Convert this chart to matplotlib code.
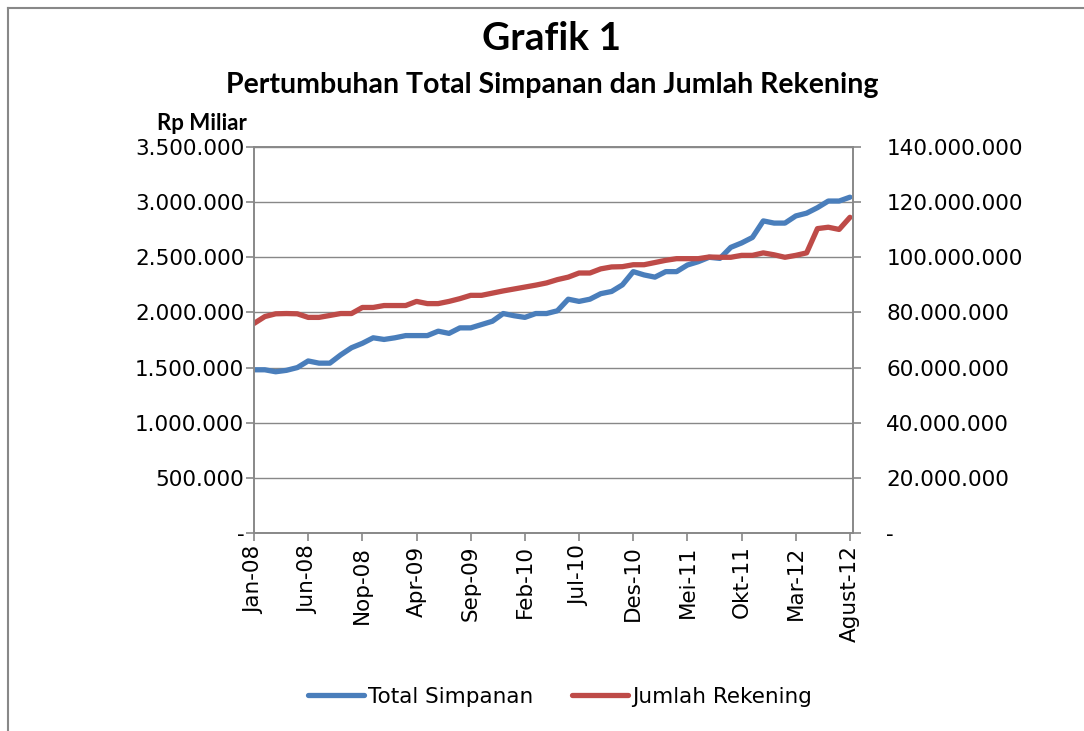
import numpy as np
import matplotlib.pyplot as plt
from matplotlib.ticker import FuncFormatter

# monthly data Jan-08 .. Agust-12
total_simpanan = [1480, 1480, 1462, 1475, 1500, 1560, 1540, 1540, 1615, 1680,
                  1720, 1770, 1755, 1770, 1790, 1790, 1790, 1830, 1810, 1860,
                  1860, 1890, 1920, 1990, 1970, 1955, 1990, 1990, 2015, 2120,
                  2100, 2120, 2170, 2190, 2250, 2370, 2340, 2320, 2370, 2370,
                  2430, 2460, 2500, 2490, 2590, 2630, 2680, 2830, 2810, 2810,
                  2875, 2900, 2950, 3010, 3010, 3045]  # ribu miliar -> x1000
jumlah_rekening = [76.0, 78.5, 79.5, 79.6, 79.5, 78.2, 78.2, 78.9, 79.6, 79.6,
                   81.8, 81.8, 82.5, 82.5, 82.5, 84.0, 83.2, 83.2, 84.0, 85.0,
                   86.2, 86.2, 87.0, 87.8, 88.5, 89.2, 89.9, 90.7, 91.9, 92.8,
                   94.3, 94.3, 95.8, 96.5, 96.6, 97.3, 97.3, 98.1, 98.9, 99.5,
                   99.5, 99.5, 100.1, 100.0, 100.0, 100.7, 100.7, 101.6, 100.9, 100.0,
                   100.7, 101.6, 110.4, 110.9, 110.1, 114.5]  # juta rekening
tick_labels = ['Jan-08', 'Jun-08', 'Nop-08', 'Apr-09', 'Sep-09', 'Feb-10',
               'Jul-10', 'Des-10', 'Mei-11', 'Okt-11', 'Mar-12', 'Agust-12']

simpanan = np.array(total_simpanan) * 1000
rekening = np.array(jumlah_rekening) * 1e6
x = np.arange(len(simpanan))

blue = '#4A7EBB'
red = '#BE4B48'
grey = '#888888'
tick_font = 'DejaVu Sans'
fs = 15.5


def dot_fmt(v, pos):
    if v == 0:
        return '-'
    return '{:,.0f}'.format(v).replace(',', '.')


fig = plt.figure(figsize=(10.84, 7.31), dpi=100)
ax = fig.add_axes([254 / 1084, 1 - 533 / 731, (853 - 254) / 1084, (533 - 147) / 731])
ax2 = ax.twinx()

l1, = ax.plot(x, simpanan, color=blue, lw=3.8, solid_capstyle='round', label='Total Simpanan')
l2, = ax2.plot(x, rekening, color=red, lw=3.8, solid_capstyle='round', label='Jumlah Rekening')

ax.set_xlim(0, 55.28)
ax.set_ylim(0, 3500000)
ax2.set_ylim(0, 140000000)
ax.set_yticks(np.arange(0, 3500001, 500000))
ax2.set_yticks(np.arange(0, 140000001, 20000000))
ax.yaxis.set_major_formatter(FuncFormatter(dot_fmt))
ax2.yaxis.set_major_formatter(FuncFormatter(dot_fmt))
ax.set_xticks(np.arange(0, len(x), 5))
ax.set_xticklabels(tick_labels, rotation=90, fontsize=fs, family=tick_font)

ax.grid(axis='y', color=grey, lw=1)
ax.set_axisbelow(True)
for a in (ax, ax2):
    for s in a.spines.values():
        s.set_color(grey)
        s.set_linewidth(1.2)
ax.tick_params(axis='both', colors=grey, length=6, width=1.2, labelcolor='black')
ax.tick_params(axis='y', labelsize=fs, pad=1)
ax.tick_params(axis='x', pad=3)
ax2.tick_params(axis='y', colors=grey, length=6, width=1.2, labelcolor='black',
                labelsize=fs, pad=18)
for t in ax.get_yticklabels() + ax2.get_yticklabels():
    t.set_family(tick_font)

fig.text(551 / 1084, 1 - 38 / 731, 'Grafik 1', ha='center', va='center',
         fontsize=28, fontweight='bold', family='Lato')
fig.text(552 / 1084, 1 - 85 / 731, 'Pertumbuhan Total Simpanan dan Jumlah Rekening',
         ha='center', va='center', fontsize=20.5, fontweight='bold', family='Lato')
fig.text(202 / 1084, 1 - 124 / 731, 'Rp Miliar', ha='center', va='center',
         fontsize=16, fontweight='bold', family='Lato')

fig.legend(handles=[l1, l2], loc='center', bbox_to_anchor=(560 / 1084, 1 - 697 / 731),
           ncol=2, frameon=False, handlelength=2.6, handletextpad=0.2,
           columnspacing=1.8, prop={'family': tick_font, 'size': fs})

# chart frame (left and top edge)
fig.add_artist(plt.Line2D([8 / 1084, 8 / 1084], [0, 1 - 8 / 731], transform=fig.transFigure,
                          color=grey, lw=1.5))
fig.add_artist(plt.Line2D([8 / 1084, 1], [1 - 8 / 731, 1 - 8 / 731], transform=fig.transFigure,
                          color=grey, lw=1.5))

plt.savefig('out.png', dpi=100)
